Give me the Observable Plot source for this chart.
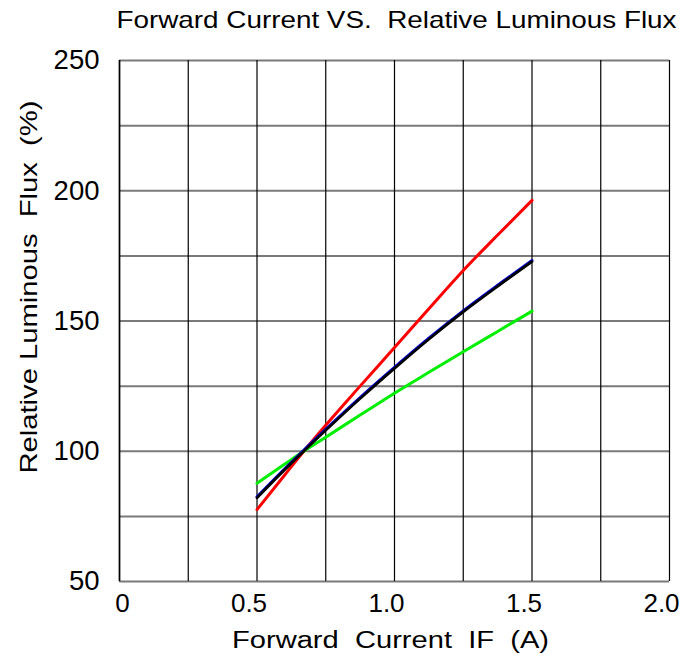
<!DOCTYPE html>
<html>
<head>
<meta charset="utf-8">
<script src="https://cdn.jsdelivr.net/npm/d3@7"></script>
<script src="https://cdn.jsdelivr.net/npm/@observablehq/plot@0.6"></script>
<style>
  html, body { margin: 0; padding: 0; background: #fff; }
  #chart svg { display: block; }
  #chart svg text { white-space: pre; }
</style>
</head>
<body>
<div id="chart"></div>
<script>
const title = "Forward Current VS.  Relative Luminous Flux";
const xLabel = "Forward  Current  IF  (A)";
const yLabel = "Relative Luminous  Flux  (%)";

const current   = [0.5, 0.6, 0.67, 0.75, 0.875, 1.0, 1.125, 1.25, 1.375, 1.5];
const redFlux   = [77.6, 90.8, 100.0, 110.0, 125.0, 139.8, 154.7, 169.4, 183.0, 196.3];
const blueFlux  = [82.5, 93.2, 100.4, 108.4, 120.6, 132.2, 143.4, 153.9, 163.7, 173.2];
const blackFlux = [82.1, 92.8, 100.0, 108.0, 120.2, 131.8, 143.0, 153.5, 163.3, 172.8];
const greenFlux = [87.7, 95.0, 100.0, 105.4, 113.9, 122.3, 130.3, 138.2, 146.0, 153.8];

const xTicks = [0, 0.5, 1.0, 1.5, 2.0];
const xTickLabels = ["0", "0.5", "1.0", "1.5", "2.0"];
const yTicks = [50, 100, 150, 200, 250];
const xGrid = [0, 0.25, 0.5, 0.75, 1.0, 1.25, 1.5, 1.75, 2.0];
const yGrid = [50, 75, 100, 125, 150, 175, 200, 225, 250];

const series = [
  {name: "red", color: "#ff0000", values: redFlux, width: 3},
  {name: "green", color: "#00ee00", values: greenFlux, width: 3},
  {name: "blue", color: "#0000cc", values: blueFlux, width: 3},
  {name: "black", color: "#000000", values: blackFlux, width: 2.6}
];
const rows = series.flatMap(s => current.map((c, i) => ({series: s.name, x: c, y: s.values[i]})));
const xTickRows = xTicks.map((v, i) => ({x: v, label: xTickLabels[i]}));

const font = "'Liberation Sans', Arial, Helvetica, sans-serif";

const plot = Plot.plot({
  width: 696,
  height: 657,
  marginTop: 60,
  marginLeft: 119,
  marginRight: 27,
  marginBottom: 76,
  style: {fontFamily: font, background: "#fff"},
  x: {domain: [0, 2], label: null, axis: null},
  y: {domain: [50, 250], label: null},
  marks: [
    Plot.ruleY(yGrid, {stroke: "#7a7a7a", strokeWidth: 2}),
    Plot.ruleX(xGrid, {stroke: "#000", strokeWidth: 1.2}),
    Plot.ruleX([0], {stroke: "#000", strokeWidth: 1.6}),
    ...series.map(s => Plot.line(rows.filter(r => r.series === s.name), {
      x: "x", y: "y", stroke: s.color, strokeWidth: s.width, curve: "monotone-x"
    })),
    Plot.text(xTickRows.filter(d => d.x === 0), {x: "x", text: "label", frameAnchor: "bottom", lineAnchor: "top", dy: 12, dx: 3, fontSize: 26, fill: "#000"}),
    Plot.text(xTickRows.filter(d => d.x !== 0), {x: "x", text: "label", frameAnchor: "bottom", lineAnchor: "top", dy: 12, dx: -8, fontSize: 26, fill: "#000"}),
    Plot.axisY(yTicks, {tickSize: 0, tickPadding: 20, fontSize: 27.5, label: null}),
    Plot.text([xLabel], {frameAnchor: "bottom", lineAnchor: "bottom", textAnchor: "middle", dy: 66, dx: -4, fontSize: 23.5, fill: "#000", className: "xlab"}),
    Plot.text([yLabel], {frameAnchor: "left", lineAnchor: "bottom", textAnchor: "middle", dx: -83, dy: -34, rotate: -90, fontSize: 24.5, fill: "#000", className: "ylab"}),
    Plot.text([title], {frameAnchor: "top", lineAnchor: "bottom", textAnchor: "middle", dy: -33, dx: 2, fontSize: 24, fill: "#000", className: "ttl"})
  ]
});
document.getElementById("chart").appendChild(plot);

// stretch the label texts horizontally to match the reference widths
const stretch = [[".ttl text", 560], [".xlab text", 317], [".ylab text", 373]];
for (const [sel, len] of stretch) {
  plot.querySelectorAll(sel).forEach(t => {
    t.setAttribute("textLength", len);
    t.setAttribute("lengthAdjust", "spacingAndGlyphs");
  });
}
</script>
</body>
</html>
